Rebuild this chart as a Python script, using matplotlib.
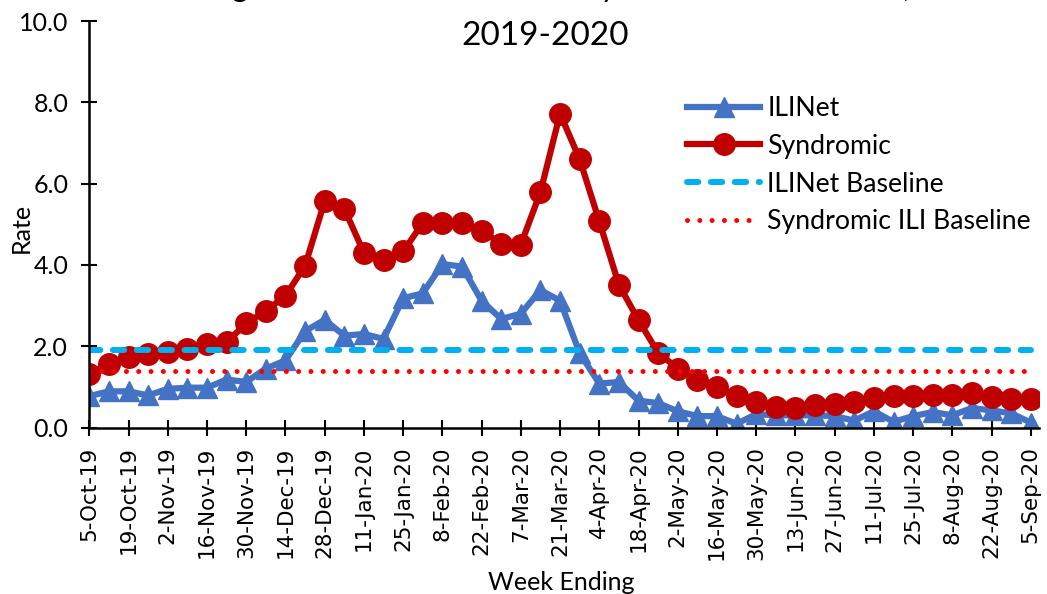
import matplotlib
matplotlib.use("Agg")
import matplotlib.pyplot as plt
import numpy as np

plt.rcParams['font.family'] = ['Lato', 'DejaVu Sans']

# week ending labels shown on the axis (every 2nd week)
tick_labels = ["5-Oct-19", "19-Oct-19", "2-Nov-19", "16-Nov-19", "30-Nov-19",
               "14-Dec-19", "28-Dec-19", "11-Jan-20", "25-Jan-20", "8-Feb-20",
               "22-Feb-20", "7-Mar-20", "21-Mar-20", "4-Apr-20", "18-Apr-20",
               "2-May-20", "16-May-20", "30-May-20", "13-Jun-20", "27-Jun-20",
               "11-Jul-20", "25-Jul-20", "8-Aug-20", "22-Aug-20", "5-Sep-20"]

# weekly rates, 5-Oct-19 .. 5-Sep-20 (49 weeks)
ilinet = [0.77, 0.89, 0.89, 0.79, 0.95, 0.98, 0.98, 1.18, 1.12, 1.45,
          1.65, 2.37, 2.65, 2.26, 2.30, 2.18, 3.18, 3.30, 4.02, 3.96,
          3.12, 2.67, 2.80, 3.38, 3.12, 1.83, 1.08, 1.12, 0.66, 0.60,
          0.40, 0.28, 0.28, 0.09, 0.33, 0.30, 0.30, 0.30, 0.28, 0.17,
          0.40, 0.14, 0.28, 0.38, 0.30, 0.48, 0.42, 0.35, 0.12]
syndromic = [1.32, 1.57, 1.74, 1.81, 1.85, 1.93, 2.05, 2.10, 2.56, 2.87,
             3.24, 3.98, 5.57, 5.38, 4.30, 4.12, 4.33, 5.03, 5.04, 5.02,
             4.84, 4.52, 4.50, 5.79, 7.72, 6.60, 5.07, 3.51, 2.64, 1.84,
             1.45, 1.16, 0.99, 0.78, 0.63, 0.51, 0.48, 0.56, 0.59, 0.63,
             0.73, 0.78, 0.77, 0.79, 0.80, 0.84, 0.74, 0.70, 0.71]
ilinet_baseline = 1.9
syndromic_baseline = 1.4

x = np.arange(len(ilinet))

fig = plt.figure(figsize=(10.47, 5.94), dpi=100)
ax = fig.add_axes([0.0853, 0.2803, 0.9071, 0.6843])

ax.plot(x, ilinet, color="#4472C4", lw=4.5, marker="^", ms=15, label="ILINet")
ax.plot(x, syndromic, color="#C00000", lw=4.5, marker="o", ms=15.5, label="Syndromic")
ax.plot(x, [ilinet_baseline] * len(x), color="#00B0F0", lw=4.3,
        dashes=(1.9, 2.1), dash_capstyle="round", label="ILINet Baseline")
ax.plot(x, [syndromic_baseline] * len(x), color="#FF0000", lw=3.6,
        dashes=(0.01, 2.45), dash_capstyle="round", label="Syndromic ILI Baseline")

ax.set_xlim(0, 48.42)
ax.set_ylim(0, 10)
ax.set_xticks(np.arange(0, len(x), 2))
ax.set_xticklabels(tick_labels, rotation=90, family="DejaVu Sans", fontsize=15.5)
ax.set_yticks(np.arange(0, 10.1, 2))
ax.set_yticklabels(["%.1f" % v for v in np.arange(0, 10.1, 2)], fontsize=18)
ax.tick_params(axis="x", direction="inout", length=12, width=1.5, pad=7.5)
ax.tick_params(axis="y", direction="inout", length=11, width=1.5, pad=9.7)
for s in ["top", "right"]:
    ax.spines[s].set_visible(False)
for s in ["left", "bottom"]:
    ax.spines[s].set_linewidth(1.8)

leg = ax.legend(loc="upper left", bbox_to_anchor=(687 / 1047, 1 - 96 / 594),
                bbox_transform=fig.transFigure, frameon=False, fontsize=19.2,
                handlelength=2.75, handletextpad=0.26, labelspacing=0.48,
                borderpad=0, borderaxespad=0, numpoints=1)

# title (first line runs off the top of the image, as in the source)
fig.text(0.5067, 1 + 3 / 594, "Average ILI Rate in ILINet Weekly Visits and Statewide,",
         ha="center", va="baseline", fontsize=22.6)
fig.text(0.521, 1 - 45 / 594, "2019-2020", ha="center", va="baseline", fontsize=24)
fig.text(21 / 1047, 1 - 228 / 594, "Rate", rotation=90, ha="center", va="center", fontsize=18)
fig.text(561 / 1047, 1 - 590 / 594, "Week Ending", ha="center", va="baseline", fontsize=18)

fig.savefig("out.png", dpi=100)
